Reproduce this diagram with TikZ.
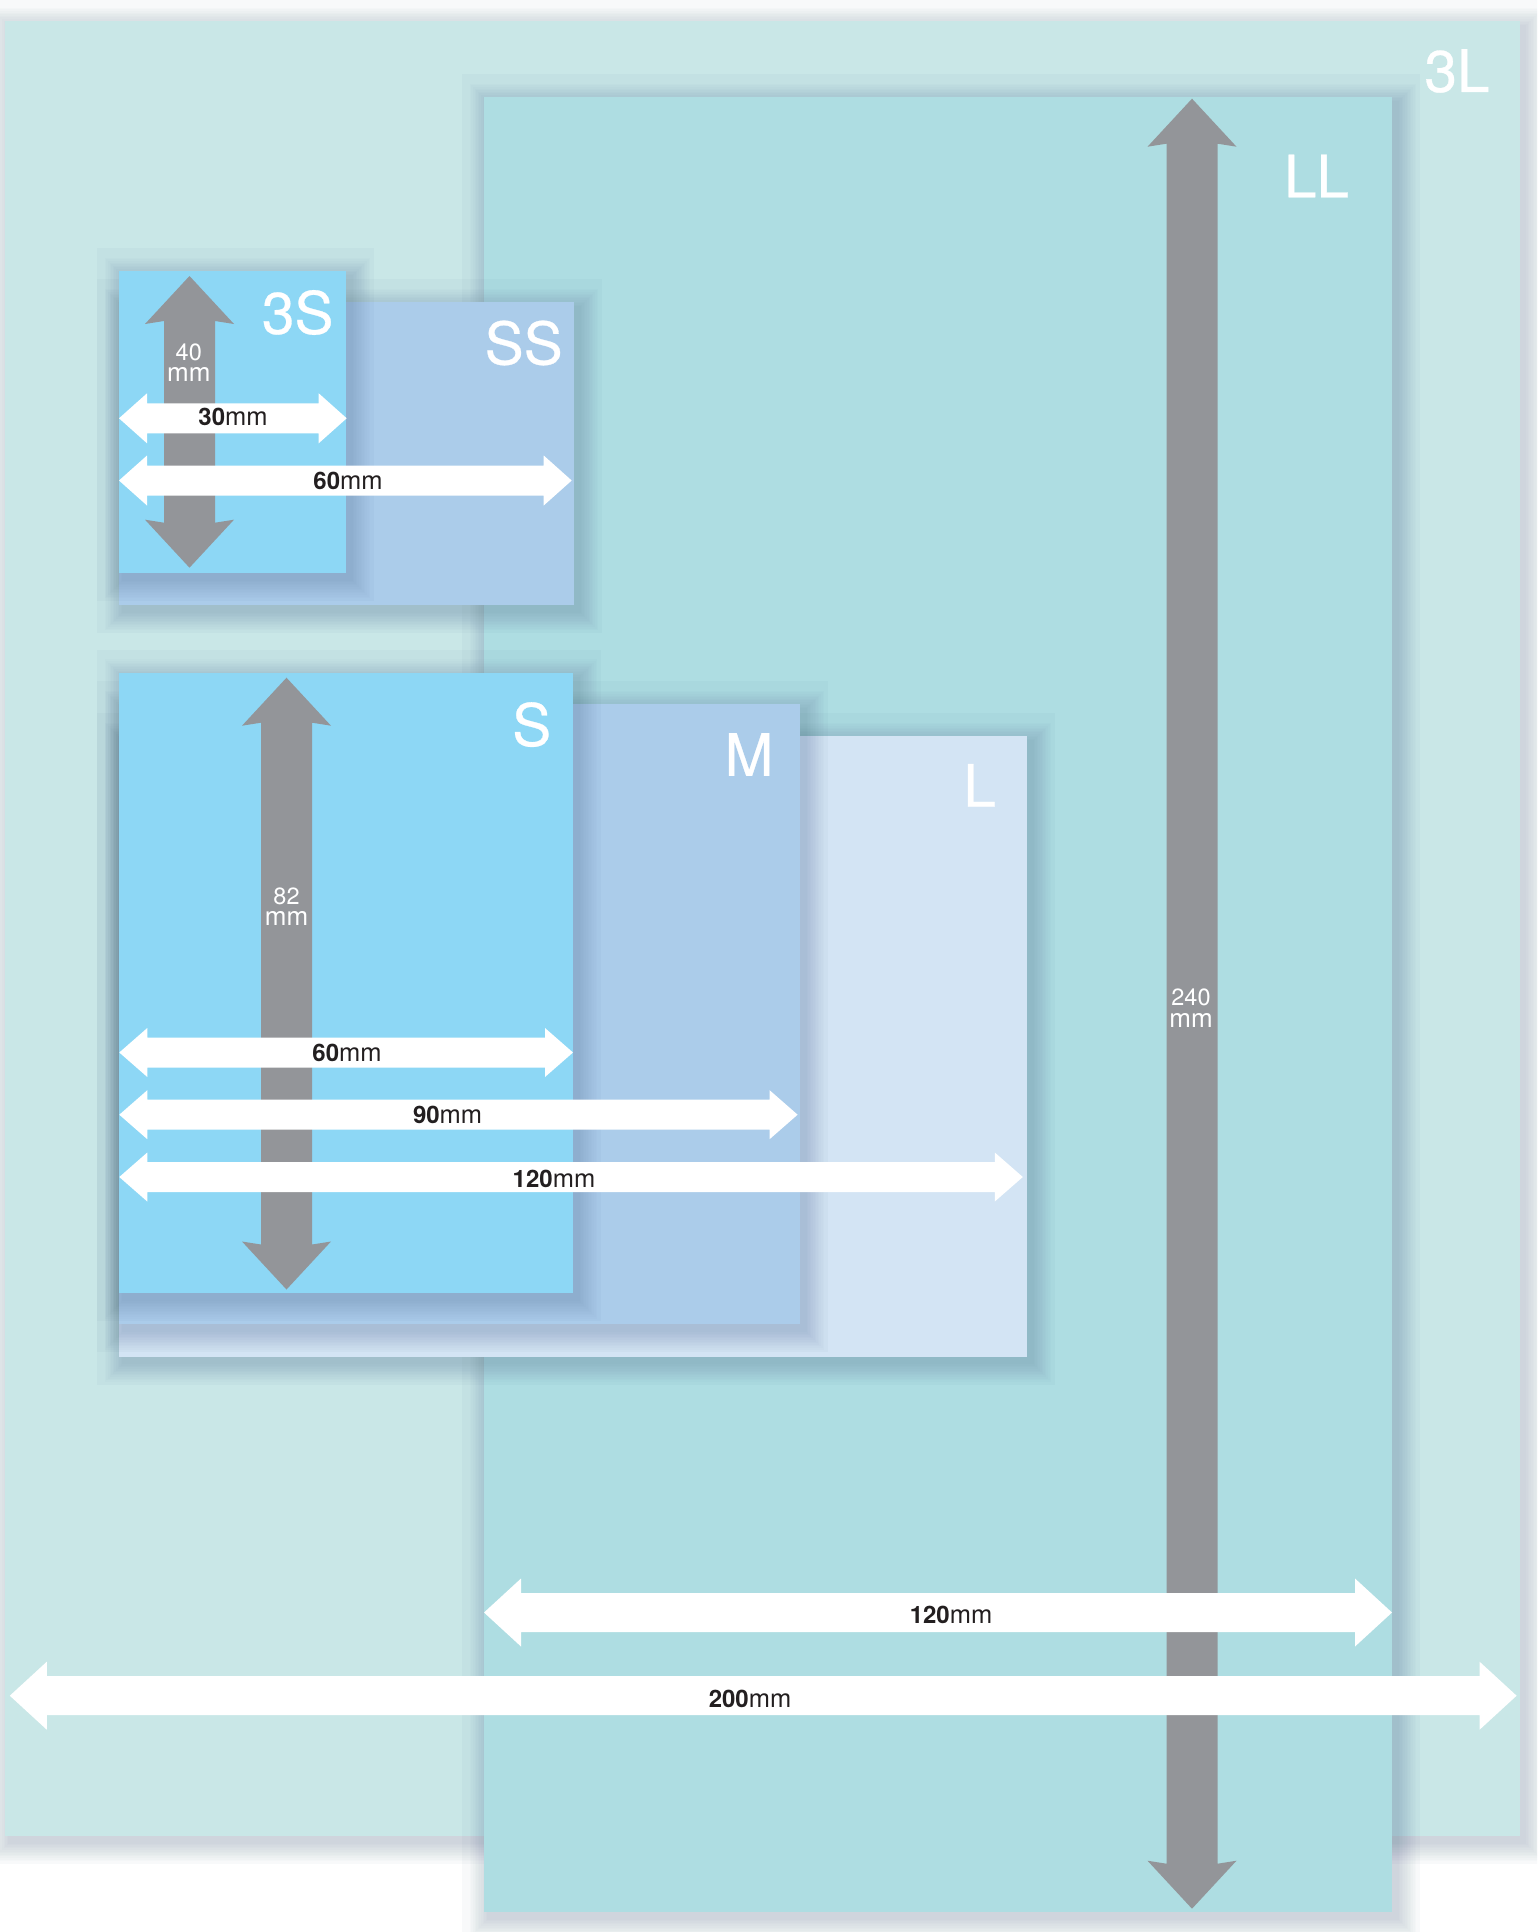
\documentclass[tikz,border=0pt]{standalone}
\usepackage{fontspec}
\setmainfont{TeX Gyre Heros}
\newfontfamily\labelfont[FakeBold=0.5]{TeX Gyre Heros}
\definecolor{bgthree}{RGB}{201,231,231}
\definecolor{llcol}{RGB}{174,221,226}
\definecolor{blueA}{RGB}{141,215,245}
\definecolor{blueB}{RGB}{171,204,234}
\definecolor{blueC}{RGB}{211,228,244}
\definecolor{arrgray}{RGB}{147,149,153}
\definecolor{shadowc}{RGB}{40,70,110}
\definecolor{dimtext}{RGB}{35,31,32}
\tikzset{
  lbl/.style={text=white, inner sep=0pt, font=\labelfont\fontsize{58.5}{60}\selectfont},
  dimlbl/.style={text=dimtext, inner sep=0pt, font=\fontsize{24}{24}\selectfont},
  vnum/.style={text=white, inner sep=0pt, font=\fontsize{23.5}{24}\selectfont},
  vmm/.style={text=white, inner sep=0pt, font=\fontsize{26}{26}\selectfont},
}
\newcommand\mmtxt{{\fontsize{25.5}{26}\selectfont mm}}
% card with soft drop shadow: x1 y1 x2 y2 colour
\newcommand\card[5]{%
  \begin{scope}
    \clip ({#1-22.5},{#2-23}) rectangle ({#3+28},{#4+28});
    \fill[shadowc,opacity=0.03] ({#1-22.5},{#2-23}) rectangle ({#3+28},{#4+28});
    \foreach \k in {1,...,12}{%
      \fill[shadowc,opacity=0.017] ({#1-1.6*\k+5},{#2-1.6*\k+6}) rectangle ({#3+1.6*\k+5},{#4+1.6*\k+6});}
  \end{scope}
  \fill[#5] (#1,#2) rectangle (#3,#4);
}
% horizontal white double arrow: x1 x2 y halfshaft halfhead headlength
\newcommand\hdim[6]{%
  \fill[white] (#1,#3) -- ({#1+#6},{#3-#5}) -- ({#1+#6},{#3-#4}) -- ({#2-#6},{#3-#4})
    -- ({#2-#6},{#3-#5}) -- (#2,#3) -- ({#2-#6},{#3+#5}) -- ({#2-#6},{#3+#4})
    -- ({#1+#6},{#3+#4}) -- ({#1+#6},{#3+#5}) -- cycle;}
% vertical grey double arrow: x y1 y2 halfshaft halfhead headlength
\newcommand\vdim[6]{%
  \fill[arrgray] (#1,#2) -- ({#1+#5},{#2+#6}) -- ({#1+#4},{#2+#6-3}) -- ({#1+#4},{#3-#6+3})
    -- ({#1+#5},{#3-#6}) -- (#1,#3) -- ({#1-#5},{#3-#6}) -- ({#1-#4},{#3-#6+3})
    -- ({#1-#4},{#2+#6-3}) -- ({#1-#5},{#2+#6}) -- cycle;}
\begin{document}
\begin{tikzpicture}[x=1pt,y=-1pt]
\useasboundingbox (0,0) rectangle (1537,1932);
\clip (0,0) rectangle (1537,1932);
\fill[white] (0,0) rectangle (1537,1932);

% big cards
\card{5}{21}{1519.5}{1836}{bgthree}
\card{484}{97}{1392}{1912}{llcol}
\node[lbl] (l3L) at (1457,71) {3L};
\node[lbl] (lLL) at (1316.5,176) {LL};

% SS / 3S group
\card{119}{302}{574}{605}{blueB}
\card{119}{271}{346}{573}{blueA}
\node[lbl] (l3S) at (297.7,312.5) {3S};
\node[lbl] (lSS) at (523.7,343) {SS};

% L / M / S group
\card{119}{736}{1027}{1356.5}{blueC}
\card{119}{704}{800}{1324.4}{blueB}
\card{119}{672.5}{573}{1293.3}{blueA}
\node[lbl] (lS) at (531.7,724.6) {S};
\node[lbl] (lM) at (749,754.5) {M};
\node[lbl] (lL) at (979.6,785.4) {L};

% 3S / SS arrows
\vdim{189.5}{276}{567.7}{25.5}{44.5}{48}
\node[vnum] (t40) at (188.8,352) {40};
\node[vmm] (t40mm) at (188.8,374) {mm};
\hdim{119}{346.7}{418.3}{15}{25}{28}
\node[dimlbl] (t30) at (233,417) {\textbf{30}\mmtxt};
\hdim{119}{571.7}{480.5}{15}{25}{28}
\node[dimlbl] (t60a) at (348,480.7) {\textbf{60}\mmtxt};

% S / M / L arrows
\vdim{286.5}{677.7}{1289.5}{25.5}{44.5}{48}
\node[vnum] (t82) at (286.5,896) {82};
\node[vmm] (t82mm) at (286.5,918) {mm};
\hdim{119.3}{573}{1052.5}{15}{24.5}{28}
\node[dimlbl] (t60b) at (347,1052.7) {\textbf{60}\mmtxt};
\hdim{119.3}{797.6}{1114.7}{15}{24.5}{28}
\node[dimlbl] (t90) at (447.6,1115) {\textbf{90}\mmtxt};
\hdim{119.3}{1022.8}{1177}{15}{24.5}{28}
\node[dimlbl] (t120a) at (554,1179) {\textbf{120}\mmtxt};

% LL / 3L arrows
\vdim{1192}{98.7}{1908.7}{25.5}{44.5}{48}
\node[vnum] (t240) at (1191,997) {240};
\node[vmm] (t240mm) at (1191,1020) {mm};
\hdim{484}{1392}{1612.5}{19.5}{34}{37}
\node[dimlbl] (t120b) at (951,1615) {\textbf{120}\mmtxt};
\hdim{9.8}{1516.6}{1695.7}{19.5}{34}{37}
\node[dimlbl] (t200) at (750,1699) {\textbf{200}\mmtxt};
\end{tikzpicture}
\end{document}
